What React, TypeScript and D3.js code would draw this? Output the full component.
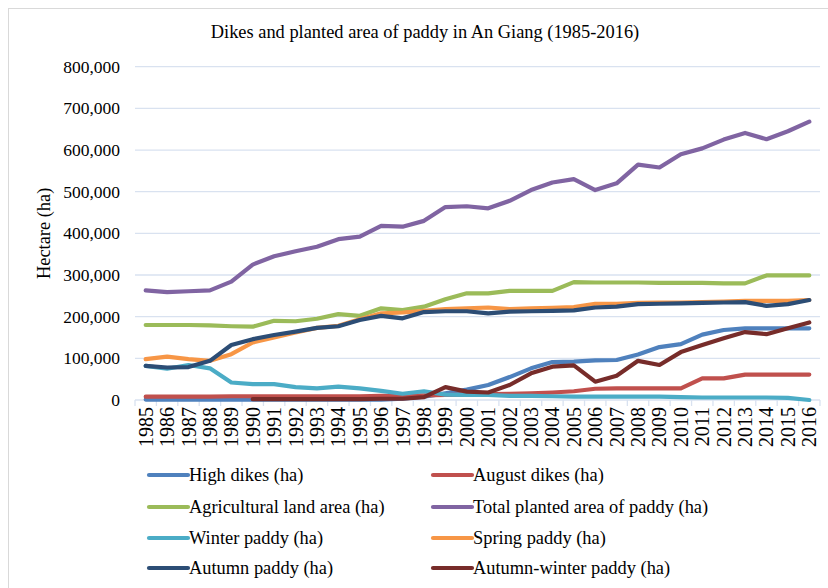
import React from "react";
import * as d3 from "d3";

const years = d3.range(1985, 2017).map(String);

const highDikes = [1000, 1000, 1000, 1000, 1000, 1000, 1000, 1000, 1000, 1000, 1000, 1000, 3000, 8000, 16000, 25000, 36000, 55000, 76000, 91000, 92000, 95000, 96000, 109000, 127000, 134000, 157000, 168000, 172000, 172000, 172000, 172000];
const augustDikes = [8000, 8000, 8000, 8000, 9000, 9000, 9000, 9000, 9000, 9000, 9000, 10000, 10000, 11000, 12000, 13000, 14000, 15000, 16000, 18000, 21000, 27000, 28000, 28000, 28000, 28000, 52000, 52000, 61000, 61000, 61000, 61000];
const agriLand = [180000, 180000, 180000, 179000, 177000, 176000, 190000, 189000, 195000, 206000, 202000, 220000, 216000, 224000, 242000, 256000, 256000, 262000, 262000, 262000, 283000, 282000, 282000, 282000, 281000, 281000, 281000, 280000, 280000, 299000, 299000, 299000];
const totalPaddy = [263000, 259000, 261000, 263000, 284000, 325000, 345000, 357000, 368000, 386000, 392000, 418000, 416000, 430000, 463000, 465000, 460000, 478000, 504000, 522000, 530000, 504000, 520000, 565000, 558000, 590000, 604000, 625000, 641000, 626000, 645000, 668000];
const winterPaddy = [82000, 75000, 84000, 76000, 42000, 38000, 38000, 31000, 28000, 32000, 28000, 22000, 15000, 21000, 13000, 12000, 12000, 10000, 10000, 9000, 8000, 8000, 8000, 8000, 8000, 7000, 6000, 6000, 6000, 6000, 5000, 0];
const springPaddy = [98000, 104000, 98000, 94000, 110000, 138000, 150000, 162000, 173000, 178000, 194000, 208000, 210000, 214000, 218000, 220000, 222000, 218000, 220000, 221000, 223000, 231000, 231000, 233000, 234000, 234000, 235000, 236000, 238000, 238000, 238000, 240000];
const autumnPaddy = [82000, 78000, 79000, 94000, 132000, 146000, 156000, 164000, 173000, 177000, 192000, 202000, 196000, 211000, 213000, 213000, 208000, 212000, 213000, 214000, 215000, 222000, 224000, 230000, 231000, 232000, 233000, 234000, 235000, 226000, 230000, 240000];
const autumnWinter = [null, null, null, null, null, 2000, 2000, 2000, 2000, 2000, 2000, 3000, 3000, 7000, 31000, 20000, 18000, 36000, 64000, 80000, 83000, 44000, 58000, 94000, 84000, 115000, 132000, 148000, 163000, 158000, 172000, 186000];

const yTicks = [0, 100000, 200000, 300000, 400000, 500000, 600000, 700000, 800000];

const seriesNames = [
  "High dikes (ha)",
  "August dikes (ha)",
  "Agricultural land area (ha)",
  "Total planted area of paddy (ha)",
  "Winter paddy (ha)",
  "Spring paddy (ha)",
  "Autumn paddy (ha)",
  "Autumn-winter paddy (ha)",
];
const seriesValues = [highDikes, augustDikes, agriLand, totalPaddy, winterPaddy, springPaddy, autumnPaddy, autumnWinter];
const colors = ["#4F81BD", "#C0504D", "#9BBB59", "#8064A2", "#4BACC6", "#F79646", "#2C4D75", "#772C2A"];

const W = 828;
const H = 588;
const plot = { left: 135, right: 820, top: 66.7, bottom: 400 };
const font = "'Liberation Serif', 'Times New Roman', serif";
const gridColor = "#D9E2F0";

export default function App() {
  const x = d3.scaleBand<string>().domain(years).range([plot.left, plot.right]).paddingInner(0).paddingOuter(0);
  const y = d3.scaleLinear().domain([0, 800000]).range([plot.bottom, plot.top]);
  const fmt = d3.format(",");
  const cx = (i: number) => (x(years[i]) as number) + x.bandwidth() / 2;

  const line = d3
    .line<number | null>()
    .defined((d) => d !== null)
    .x((_, i) => cx(i))
    .y((d) => y(d as number))
    .curve(d3.curveLinear);

  const legendY = [475, 507, 538, 568];
  const legendX = [149, 433];

  return (
    <svg width={W} height={H} style={{ position: "absolute", left: 0, top: 0, background: "#fff" }}>
      <rect x={8.5} y={8.5} width={W} height={H} fill="#fff" stroke="#D9D9D9" strokeWidth={1} />
      <text x={425} y={38} textAnchor="middle" fontFamily={font} fontSize={18.4} fill="#000">
        Dikes and planted area of paddy in An Giang (1985-2016)
      </text>
      {yTicks.map((t) => (
        <g key={t}>
          {t > 0 && (
            <line x1={plot.left} x2={plot.right} y1={y(t)} y2={y(t)} stroke={gridColor} strokeWidth={1.3} />
          )}
          <text x={120} y={y(t)} dy="0.35em" textAnchor="end" fontFamily={font} fontSize={17.5} fill="#000">
            {fmt(t)}
          </text>
        </g>
      ))}
      <text
        transform={`translate(50,${(plot.top + plot.bottom) / 2}) rotate(-90)`}
        textAnchor="middle"
        fontFamily={font}
        fontSize={18.4}
        fill="#000"
      >
        Hectare (ha)
      </text>
      <line x1={plot.left} x2={plot.right} y1={plot.bottom} y2={plot.bottom} stroke={gridColor} strokeWidth={1.3} />
      {years.concat(["end"]).map((yr, i) => {
        const xx = plot.left + i * x.bandwidth();
        return <line key={"t" + i} x1={xx} x2={xx} y1={plot.bottom} y2={plot.bottom + 6} stroke={gridColor} strokeWidth={1.3} />;
      })}
      {years.map((yr, i) => (
        <text
          key={yr}
          transform={`translate(${cx(i)},${plot.bottom + 7}) rotate(-90)`}
          textAnchor="end"
          dy="0.35em"
          fontFamily={font}
          fontSize={20}
          fill="#000"
        >
          {yr}
        </text>
      ))}
      {seriesValues.map((vals, si) => (
        <path
          key={si}
          d={line(vals as (number | null)[]) || ""}
          fill="none"
          stroke={colors[si]}
          strokeWidth={4.2}
          strokeLinejoin="round"
          strokeLinecap="round"
        />
      ))}
      {seriesNames.map((name, si) => {
        const col = si % 2;
        const row = Math.floor(si / 2);
        const lx = legendX[col];
        const ly = legendY[row];
        return (
          <g key={name}>
            <line x1={lx} x2={lx + 39} y1={ly} y2={ly} stroke={colors[si]} strokeWidth={4.2} strokeLinecap="round" />
            <text x={lx + 40} y={ly} dy="0.35em" fontFamily={font} fontSize={18.4} fill="#000">
              {name}
            </text>
          </g>
        );
      })}
    </svg>
  );
}
